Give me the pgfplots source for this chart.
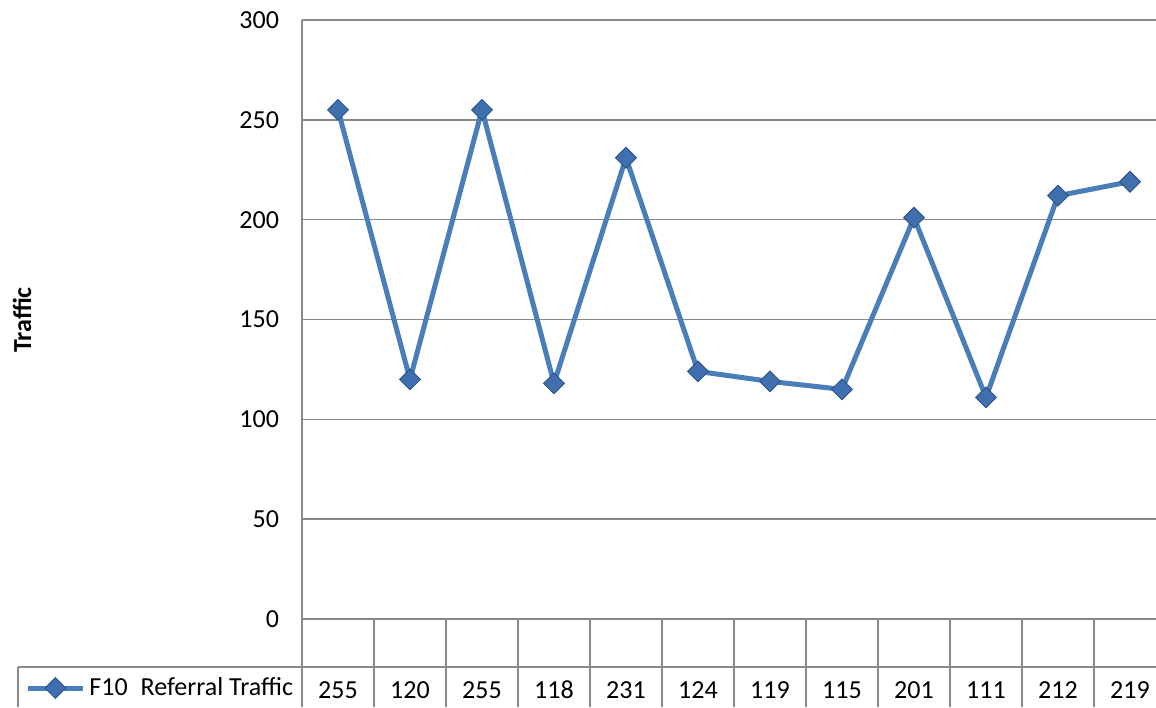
\documentclass[border=0pt]{standalone}
\usepackage{fontspec}
\setmainfont{Carlito}
\usepackage{pgfplots}
\pgfplotsset{compat=1.18}
\definecolor{lineblue}{HTML}{4A7EBB}
\definecolor{markblue}{HTML}{3F6FAE}
\definecolor{markdark}{HTML}{2B4F80}
\definecolor{gridgray}{HTML}{898989}
\begin{document}
\begin{tikzpicture}[x=1pt,y=1pt,font=\fontsize{13pt}{15pt}\selectfont]
\useasboundingbox (0,0) rectangle (578,353.5);
\begin{axis}[
  at={(151pt,44pt)}, anchor=south west,
  scale only axis, width=432pt, height=299.5pt,
  xmin=-0.5, xmax=11.5, ymin=0, ymax=300,
  ytick={0,50,...,300},
  xtick={0,...,11},
  xticklabels={255,120,255,118,231,124,119,115,201,111,212,219},
  xticklabel style={anchor=base, yshift=-39.5pt},
  yticklabel style={xshift=-8pt},
  major tick length=0pt,
  /pgf/number format/assume math mode=true,
  ymajorgrids,
  major grid style={gridgray, line width=0.7pt},
  axis y line*=left, axis x line*=bottom,
  axis line style={gridgray, line width=0.9pt, -},
  clip=false,
  legend style={at={(axis description cs:-0.3206,-0.1152)}, anchor=west,
    draw=none, fill=none, inner sep=0pt},
  legend cell align=left,
  legend image code/.code={\draw[#1, mark repeat=2, mark phase=2] plot coordinates {(0pt,0pt)(13.75pt,0pt)(27.5pt,0pt)};},
]
\addplot[lineblue, line width=2.5pt, mark=square*, mark size=3.7pt,
  mark options={rotate=45, fill=markblue, draw=markdark, line width=0.4pt}]
  coordinates {(0,255)(1,120)(2,255)(3,118)(4,231)(5,124)(6,119)(7,115)(8,201)(9,111)(10,212)(11,219)};
\addlegendentry{F10\hspace{0.5em}Referral Traffic}
\end{axis}
% data table grid
\foreach \k in {0,...,12} {\draw[gridgray, line width=1.4pt] (151+36*\k,0) -- (151+36*\k,44);}
\draw[gridgray, line width=1.4pt] (9,20) -- (590,20);
\draw[gridgray, line width=1.4pt] (9,0) -- (9,20);
\node[rotate=90, font=\fontsize{13pt}{15pt}\selectfont\bfseries] at (11,193.5) {Traffic};
\end{tikzpicture}
\end{document}
